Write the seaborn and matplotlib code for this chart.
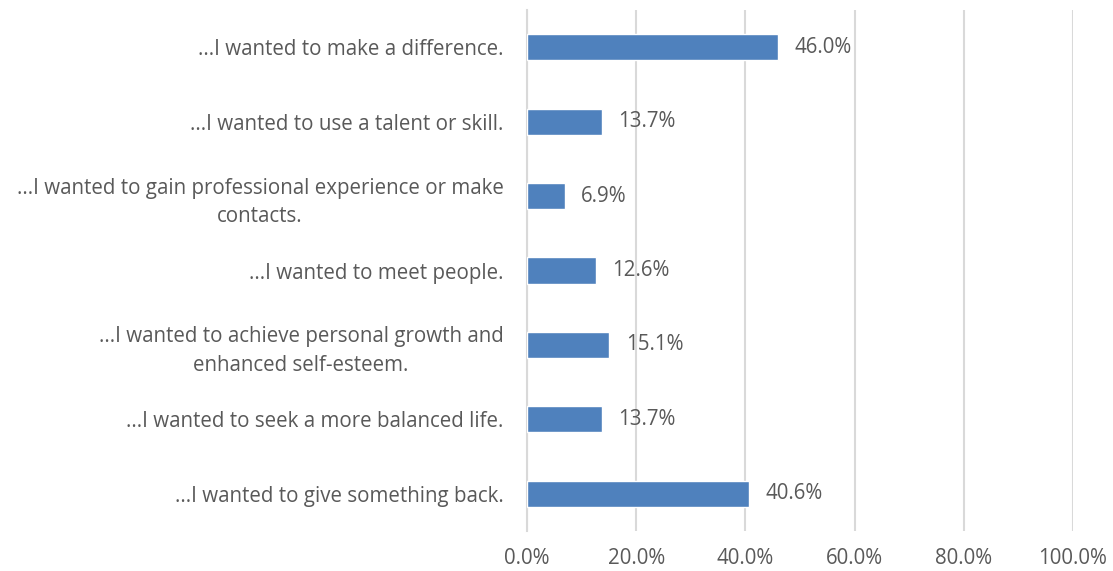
import matplotlib
matplotlib.use("Agg")
import matplotlib.pyplot as plt
import seaborn as sns
import pandas as pd

reasons = [
    "...I wanted to make a difference.",
    "...I wanted to use a talent or skill.",
    "...I wanted to gain professional experience or make\ncontacts.",
    "...I wanted to meet people.",
    "...I wanted to achieve personal growth and\nenhanced self-esteem.",
    "...I wanted to seek a more balanced life.",
    "...I wanted to give something back.",
]
percent = [46.0, 13.7, 6.9, 12.6, 15.1, 13.7, 40.6]
x_ticks = [0, 20, 40, 60, 80, 100]

df = pd.DataFrame({"reason": reasons, "percent": percent})

sns.set_style("white")
plt.rcParams["font.family"] = ["Open Sans", "DejaVu Sans"]
text_col = "#595959"
fs = 14.8

fig = plt.figure(figsize=(11.13, 5.71), dpi=100)
ax = fig.add_axes([0.4735, 0.070, 0.4905, 0.9125])

sns.barplot(data=df, x="percent", y="reason", color="#4F81BD", width=0.35,
            saturation=1, ax=ax, zorder=3)

ax.set_xlim(0, 100)
ax.set_xticks(x_ticks)
ax.set_xticklabels([f"{t:.1f}%" for t in x_ticks], color=text_col, fontsize=fs)
ax.grid(axis="x", color="#D9D9D9", linewidth=1.5, zorder=0)
ax.set_axisbelow(True)
for s in ["top", "right", "bottom"]:
    ax.spines[s].set_visible(False)
ax.spines["left"].set_color("#D9D9D9")
ax.spines["left"].set_linewidth(1.5)
ax.tick_params(axis="both", length=0)
ax.tick_params(axis="x", pad=12)

ax.set_yticks(range(len(reasons)))
ax.set_yticklabels(reasons, color=text_col, fontsize=fs, multialignment="center",
                   linespacing=1.45)
ax.tick_params(axis="y", pad=17)
ax.set_xlabel("")
ax.set_ylabel("")

for i, v in enumerate(percent):
    ax.text(v + 3.0, i, f"{v:.1f}%", va="center", ha="left", color=text_col, fontsize=fs)

fig.savefig("out.png", dpi=100)
